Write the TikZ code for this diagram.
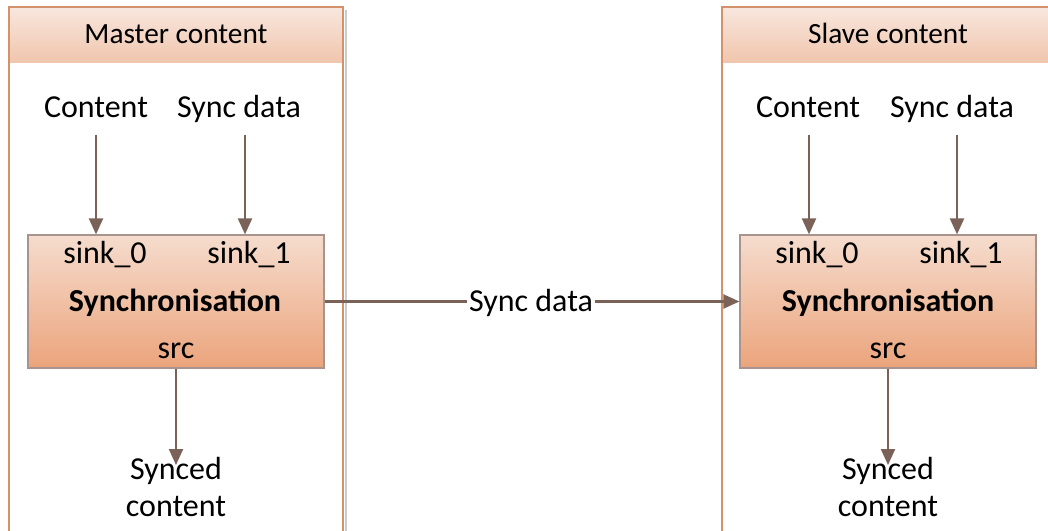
\documentclass[tikz,border=0pt]{standalone}
\usepackage{fontspec}
\setmainfont{Carlito}
\usetikzlibrary{arrows.meta,shadings}
\definecolor{arrowc}{HTML}{7A6259}
\definecolor{panelc}{HTML}{D4926C}
\definecolor{hdrtop}{HTML}{F8E7DE}
\definecolor{hdrbot}{HTML}{F0C5AC}
\definecolor{boxtop}{HTML}{F5DCCD}
\definecolor{boxbot}{HTML}{EBA47C}
\definecolor{boxborder}{HTML}{A8948C}
\tikzset{
  arr/.style={draw=arrowc, line width=1.6pt, -{Triangle[width=10.5pt,length=12pt]}},
  plainline/.style={draw=arrowc, line width=1.6pt},
  lbl/.style={font=\fontsize{24}{28}\selectfont, inner sep=1pt, text height=0.7em, text depth=0.25em},
  hdr/.style={font=\fontsize{22}{26}\selectfont, inner sep=1pt, text height=0.7em, text depth=0.25em},
  twoline/.style={font=\fontsize{24}{28}\selectfont, inner sep=1pt, align=center},
  syncbox/.style={draw=boxborder, line width=0.9pt, top color=boxtop, bottom color=boxbot, minimum width=296*0.75pt, minimum height=133*0.75pt, inner sep=0pt},
  panelline/.style={draw=panelc, line width=1.3pt}
}
\begin{document}
\begin{tikzpicture}[x=0.75pt,y=-0.75pt]
\useasboundingbox (0,0) rectangle (1048,531);
% left panel
\draw[gray!40, line width=1.5pt] (346,10) -- (346,531);
\shade[top color=hdrtop, bottom color=hdrbot] (9,7) rectangle (343,63);
\draw[panelline] (9,531) -- (9,7) -- (343,7) -- (343,531);
\node[hdr] (mhdr) at (176,41) {Master content};
% right panel
\shade[top color=hdrtop, bottom color=hdrbot] (722,7) rectangle (1048,63);
\draw[panelline] (722,531) -- (722,7) -- (1048,7);
\node[hdr] (shdr) at (888,41) {Slave content};
% left content
\node[syncbox] (b1) at (176,301.5) {};
\node[lbl] (c1) at (96,115) {Content};
\node[lbl] (d1) at (239,115) {Sync data};
\node[lbl] at (105,260) (k10) {sink\_0};
\node[lbl] at (249,260) (k11) {sink\_1};
\node[lbl, font=\fontsize{24}{28}\selectfont\bfseries] (s1) at (175,308) {Synchronisation};
\node[lbl] (r1) at (176,355) {src};
\node[twoline] (o1) at (176,487) {Synced\\content};
% right content
\node[syncbox] (b2) at (888,301.5) {};
\node[lbl] (c2) at (808,115) {Content};
\node[lbl] (d2) at (952,115) {Sync data};
\node[lbl] at (817,260) (k20) {sink\_0};
\node[lbl] at (961,260) (k21) {sink\_1};
\node[lbl, font=\fontsize{24}{28}\selectfont\bfseries] (s2) at (888,308) {Synchronisation};
\node[lbl] (r2) at (888,355) {src};
\node[twoline] (o2) at (888,487) {Synced\\content};
% middle label
\node[lbl] (mid) at (531,308) {Sync data};
% coordinates
\coordinate (a1s) at (96,135);
\coordinate (a2s) at (245,135);
\coordinate (a3s) at (809,135);
\coordinate (a4s) at (957,135);
\coordinate (o1t) at (176,465);
\coordinate (o2t) at (888,465);
% arrows
\draw[arr] (a1s) -- (a1s |- b1.north);
\draw[arr] (a2s) -- (a2s |- b1.north);
\draw[arr] (a3s) -- (a3s |- b2.north);
\draw[arr] (a4s) -- (a4s |- b2.north);
\draw[arr] (b1.south) -- (o1t);
\draw[arr] (b2.south) -- (o2t);
\draw[plainline] (b1.east) -- (b1.east -| mid.west);
\draw[arr] (b2.west -| mid.east) -- (b2.west);
\end{tikzpicture}
\end{document}
